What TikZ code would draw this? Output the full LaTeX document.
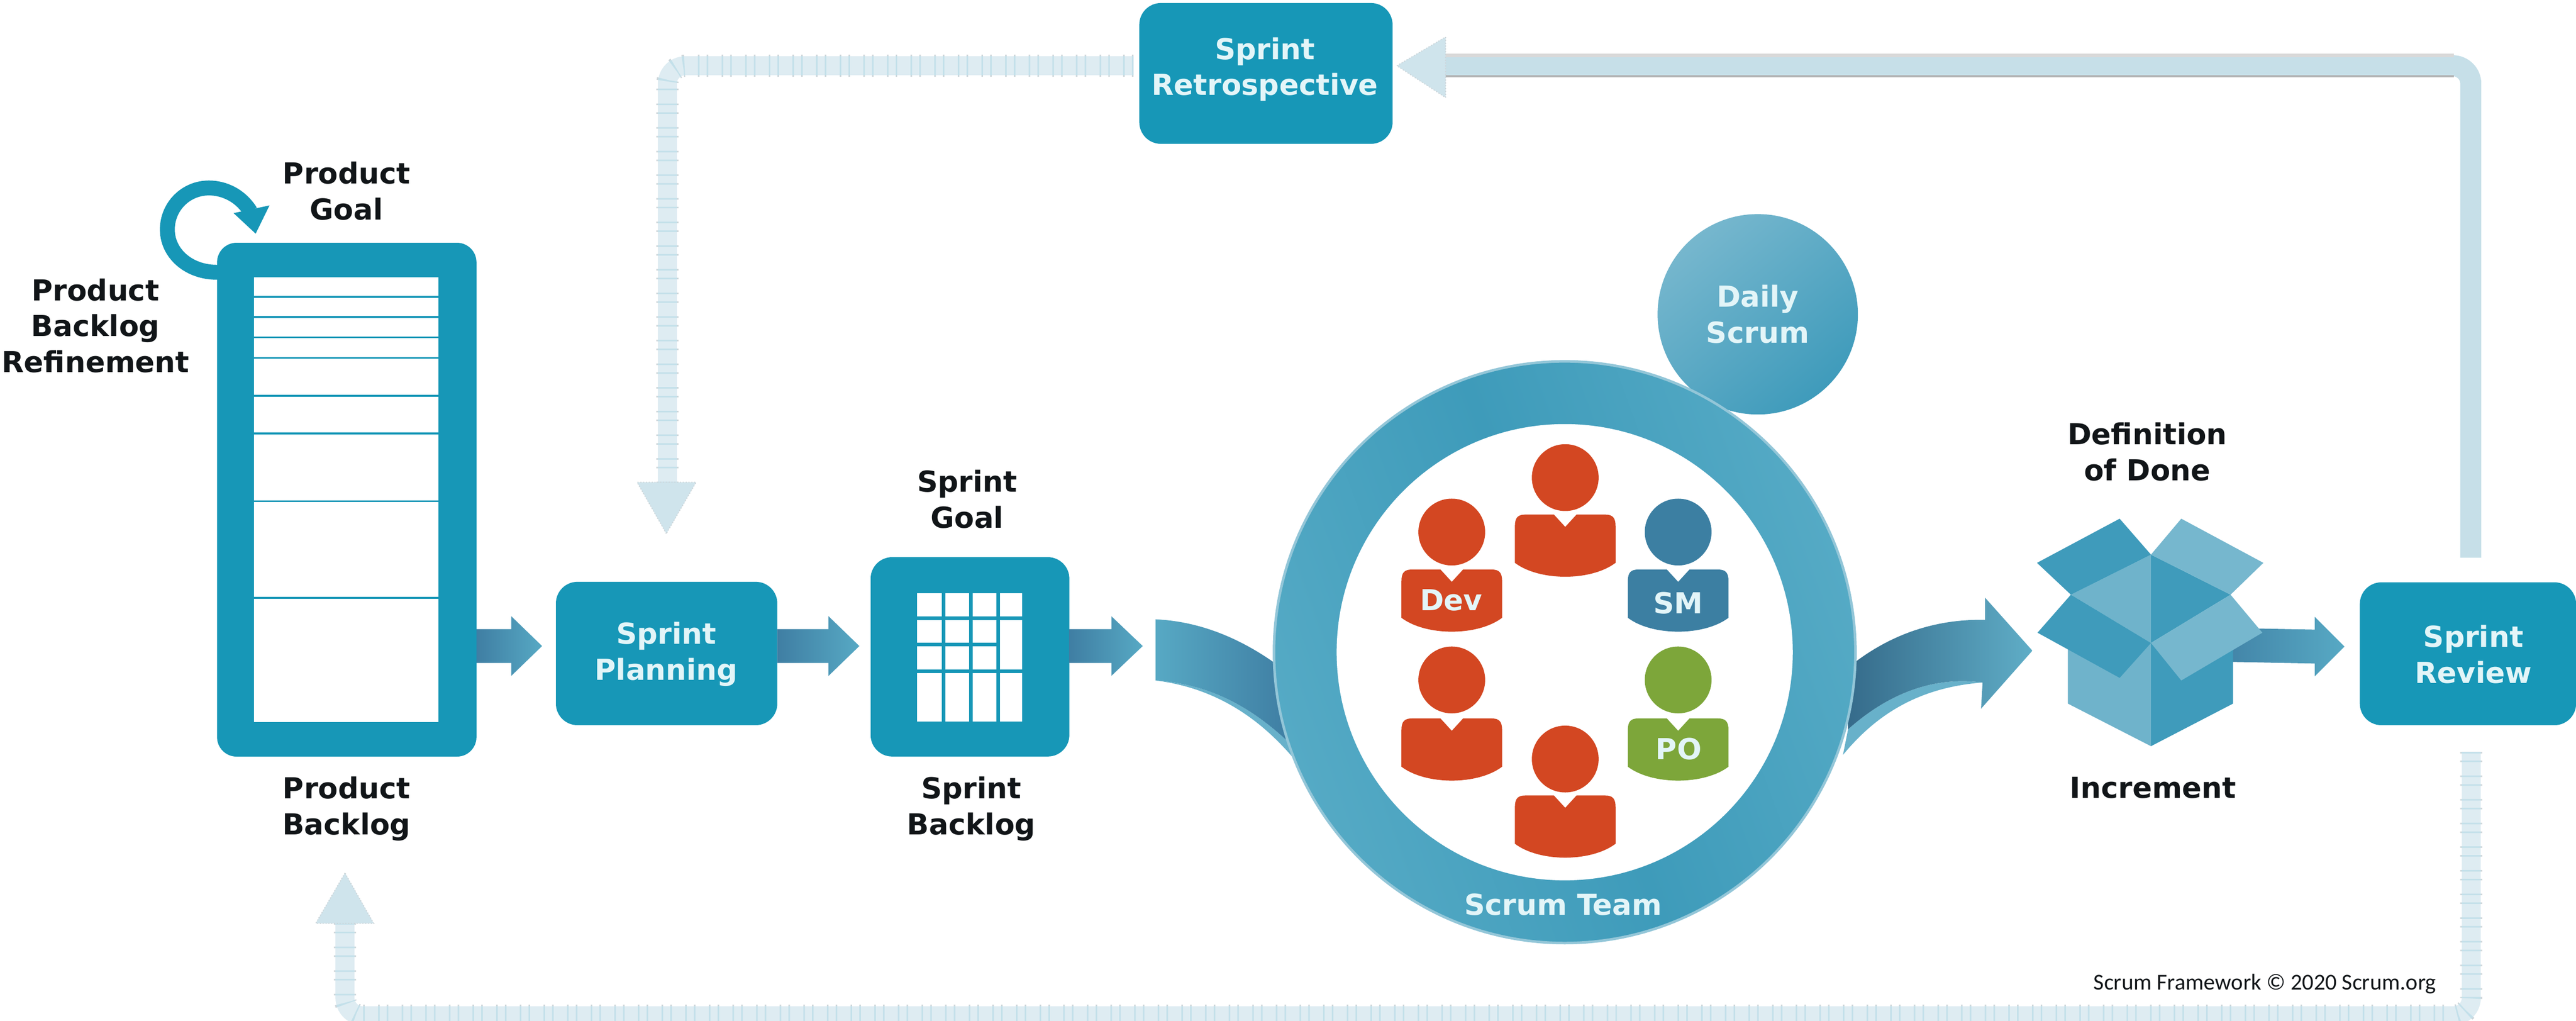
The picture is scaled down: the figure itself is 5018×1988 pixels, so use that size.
\documentclass[tikz,border=0pt]{standalone}
\usepackage{fontspec}
\setmainfont{DejaVu Sans}
\newfontfamily\footfont{Carlito}
\usetikzlibrary{calc,shapes.geometric}
\definecolor{scrumteal}{HTML}{1797B7}
\definecolor{paletext}{HTML}{E3F5F8}
\definecolor{inktext}{HTML}{111518}
\definecolor{arrdark}{HTML}{3F7EA3}
\definecolor{arrlight}{HTML}{57A9C4}
\definecolor{bandbasec}{HTML}{DEECF2}
\definecolor{bandstripec}{HTML}{C3E0EA}
\definecolor{bandtickc}{HTML}{CDD5D9}
\definecolor{solidband}{HTML}{C6DFE8}
\definecolor{headc}{HTML}{CFE4EC}
\definecolor{boxlight}{HTML}{6FB3CB}
\definecolor{boxdark}{HTML}{3F9BBB}
\definecolor{devred}{HTML}{D34722}
\definecolor{smblue}{HTML}{3C7FA2}
\definecolor{pogreen}{HTML}{7DA63A}
\definecolor{ringlight}{HTML}{55AAC5}
\definecolor{ringdark}{HTML}{3E9BBA}
\pgfdeclarehorizontalshading{ringshade}{100bp}{color(0bp)=(ringlight); color(25bp)=(ringlight); color(50bp)=(ringdark); color(75bp)=(ringlight); color(100bp)=(ringlight)}
\tikzset{
  tealbox/.style={fill=scrumteal,rounded corners=.42cm,inner sep=0,outer sep=0},
  darktext/.style={font=\fontsize{16}{19.85}\selectfont\bfseries,text=inktext,align=center,inner sep=0},
  whitetext/.style={font=\fontsize{16}{19.85}\selectfont\bfseries,text=paletext,align=center,inner sep=0},
  whitecell/.style={fill=white,inner sep=0,outer sep=0},
  fatgrad/.style={left color=arrdark,right color=arrlight},
  bandtick/.style={draw=bandtickc,line width=.43cm,dash pattern=on .03cm off .14cm on .03cm off .26cm,rounded corners=.35cm},
  bandbase/.style={draw=bandbasec,line width=.37cm,rounded corners=.35cm},
  bandstripe/.style={draw=bandstripec,line width=.37cm,dash pattern=on .03cm off .14cm on .03cm off .26cm,rounded corners=.35cm},
  lighthead/.style={fill=headc,draw=bandtickc,line width=.02cm,densely dotted},
  headdisc/.style={circle,inner sep=0,outer sep=0,minimum size=1.3cm},
  gridline/.style={draw=scrumteal,line width=.07cm},
  rowline/.style={draw=scrumteal,line width=.035cm},
}
\newcommand{\fatarrow}[3]{%
  \shade[fatgrad] ($(#1)+(0,-33)$) -- ($(#2)+(-#3,-33)$) -- ($(#2)+(-#3,-58)$) -- (#2)
    -- ($(#2)+(-#3,58)$) -- ($(#2)+(-#3,33)$) -- ($(#1)+(0,33)$) -- cycle;}
\newcommand{\stripeband}[1]{%
  \draw[bandtick] #1; \draw[bandbase] #1; \draw[bandstripe] #1;}
\newcommand{\person}[5]{%
  \node[headdisc,fill=#5] (#1) at (#2,#3) {};
  \begin{scope}[shift={(#2,#4)}]
    \fill[#5] (-98,22) .. controls (-98,6) and (-92,0) .. (-78,0) -- (-22,0) -- (0,24) -- (22,0)
      -- (78,0) .. controls (92,0) and (98,6) .. (98,22) -- (98,94)
      .. controls (50,130) and (-50,130) .. (-98,94) -- cycle;
  \end{scope}}
\begin{document}
\begin{tikzpicture}[x=.01cm,y=-.01cm]
\useasboundingbox (0,0) rectangle (5018,1988);
\clip (0,0) rectangle (5018,1988);
% named free ends
\coordinate (retroL) at (2208,128);
\coordinate (planTop) at (1300,945);
\coordinate (reviewT) at (4813,1086);
\coordinate (retroR) at (2816,128);
\coordinate (reviewB) at (4814,1464);
\coordinate (pbBot) at (672,1798);
% feedback bands
\stripeband{(retroL) -- (1300,128) -- (planTop)}
\stripeband{(reviewB) -- (4814,1978) -- (672,1978) -- (pbBot)}
\draw[draw=solidband,line width=.41cm,rounded corners=.35cm] (reviewT) -- (4813,128) -- (retroR);
\draw[draw=white!85!black,line width=.07cm] (retroR) ++(0,-20) -- (4780,108);
\draw[draw=black!30,line width=.04cm] (retroR) ++(0,21) -- (4780,149);
\coordinate (retroTip) at (2721,128);
\coordinate (planTip) at (1298,1039);
\coordinate (pbTip) at (672,1700);
\filldraw[lighthead] (retroTip) -- (2816,72) -- (2816,190) -- cycle;
\filldraw[lighthead] (planTip) -- (1241,939) -- (1356,939) -- cycle;
\filldraw[lighthead] (pbTip) -- (615,1798) -- (728,1798) -- cycle;
% refinement loop
\draw[scrumteal,line width=.29cm] (445,528) .. controls (380,540) and (326,500) .. (326,447)
  .. controls (326,402) and (362,366) .. (407,366) .. controls (436,366) and (468,380) .. (488,412);
\fill[scrumteal] (525,400) -- (455,415) -- (498,455) -- cycle;
% product backlog
\node[tealbox,minimum width=5.05cm,minimum height=10cm,rounded corners=.38cm] (pb) at (675.5,973) {};
\node[whitecell,minimum width=3.59cm,minimum height=8.66cm] (pblist) at (674.5,973) {};
\foreach \ry in {578,617,657,697,771,844,976,1164}
  \draw[rowline] (pblist.west |- 0,\ry) -- (pblist.east |- 0,\ry);
% sprint planning, backlog, retrospective, review
\node[tealbox,minimum width=4.31cm,minimum height=2.79cm] (plan) at (1298.5,1272.5) {};
\node[tealbox,minimum width=3.87cm,minimum height=3.88cm] (sb) at (1889.5,1279) {};
\node[tealbox,minimum width=4.93cm,minimum height=2.74cm] (retro) at (2466,143) {};
\node[tealbox,minimum width=4.21cm,minimum height=2.78cm] (review) at (4807.5,1273) {};
\node[whitecell,minimum width=2.05cm,minimum height=2.5cm] (grid) at (1888.5,1280) {};
\foreach \cx in {1838,1891,1944}
  \draw[gridline] (\cx,1155) -- (\cx,1405);
\draw[gridline] (grid.west |- 0,1204) -- (grid.east |- 0,1204);
\draw[gridline] (grid.west |- 0,1255) -- (1944,1255);
\draw[gridline] (grid.west |- 0,1307) -- (grid.east |- 0,1307);
% straight fat arrows
\coordinate (a1s) at (pb.east |- 0,1258);
\coordinate (a1e) at (1056,1258);
\fatarrow{a1s}{a1e}{60}
\coordinate (a2s) at (plan.east |- 0,1258);
\coordinate (a2e) at (1674,1258);
\fatarrow{a2s}{a2e}{60}
\coordinate (a3s) at (sb.east |- 0,1258);
\coordinate (a3e) at (2226,1258);
\fatarrow{a3s}{a3e}{61}
\coordinate (a4s) at (4300,1255);
\coordinate (a4e) at (4567,1259);
\fatarrow{a4s}{a4e}{58}
% curved arrows into and out of the ring
\fill[arrlight!90!white] (2251,1325) .. controls (2370,1340) and (2460,1400) .. (2535,1495)
  -- (2510,1445) .. controls (2430,1370) and (2350,1332) .. (2251,1325) -- cycle;
\shade[left color=arrlight,right color=arrdark] (2251,1206) .. controls (2340,1210) and (2420,1245) .. (2490,1296)
  -- (2510,1445) .. controls (2430,1370) and (2350,1332) .. (2251,1325) -- cycle;
\fill[arrlight!90!white] (3590,1470) .. controls (3660,1385) and (3745,1338) .. (3862,1329)
  .. controls (3780,1318) and (3690,1340) .. (3600,1420) -- cycle;
\shade[left color=arrdark!85!black,right color=arrlight!95!white] (3600,1300) .. controls (3680,1235) and (3770,1205) .. (3867,1207)
  -- (3867,1164) -- (3959,1267) -- (3859,1380) -- (3862,1329)
  .. controls (3780,1318) and (3690,1340) .. (3600,1420) -- cycle;
% daily scrum and ring
\node[circle,minimum size=3.9cm,inner sep=0,top color=boxlight!95!white,bottom color=boxdark,shading angle=40] (daily) at (3424,612) {};
\node[circle,minimum size=11.32cm,inner sep=0,draw=boxlight!75!white,line width=.05cm,shading=ringshade,shading angle=20] (team) at (3048,1270) {};
\node[circle,minimum size=8.88cm,inner sep=0,fill=white] (teamhole) at (3048,1270) {};
% people
\person{p1}{3049}{930}{1002}{devred}
\person{p2}{2828}{1036}{1109}{devred}
\person{p3}{3269}{1036}{1109}{smblue}
\person{p4}{2828}{1324}{1399}{devred}
\person{p5}{3269}{1324}{1399}{pogreen}
\person{p6}{3049}{1478}{1549}{devred}
% increment box
\fill[boxlight] (4028,1262) -- (4190,1252) -- (4190,1453) -- (4028,1370) -- cycle;
\fill[boxdark] (4190,1252) -- (4350,1262) -- (4350,1370) -- (4190,1453) -- cycle;
\fill[boxlight] (4034,1158) -- (4190,1080) -- (4190,1252) -- cycle;
\fill[boxdark] (4190,1080) -- (4345,1158) -- (4190,1252) -- cycle;
\fill[boxdark] (4129,1010) -- (4190,1080) -- (4034,1158) -- (3968,1096) -- cycle;
\fill[boxlight!95!white] (4249,1010) -- (4409,1096) -- (4345,1158) -- (4190,1080) -- cycle;
\fill[boxdark] (4034,1158) -- (4190,1252) -- (4129,1320) -- (3969,1232) -- cycle;
\fill[boxlight!95!white] (4190,1252) -- (4345,1158) -- (4407,1232) -- (4249,1325) -- cycle;
% texts
\node[darktext] (tgoal) at (675,372) {Product\\Goal};
\node[darktext] (tref) at (186,634) {Product\\Backlog\\Refinement};
\node[darktext] (tpb) at (675,1575) {Product\\Backlog};
\node[whitetext] (tplan) at (1298,1274) {Sprint\\Planning};
\node[darktext] (tsg) at (1884,972) {Sprint\\Goal};
\node[darktext] (tsb) at (1892,1575) {Sprint\\Backlog};
\node[whitetext] (tretro) at (2464,135) {Sprint\\Retrospective};
\node[whitetext] (tdaily) at (3424,612) {Daily\\Scrum};
\node[whitetext] (tteam) at (3045,1761) {Scrum Team};
\node[whitetext] (tdev) at (2827,1169) {Dev};
\node[whitetext] (tsm) at (3269,1174) {SM};
\node[whitetext] (tpo) at (3270,1458) {PO};
\node[darktext] (tdod) at (4183,880) {Definition\\of Done};
\node[darktext] (tinc) at (4194,1534) {Increment};
\node[whitetext] (trev) at (4818,1274) {Sprint\\Review};
\node[inner sep=0,text=inktext,font=\footfont\fontsize{12.6}{15}\selectfont] (tfoot) at (4412,1916) {Scrum Framework © 2020 Scrum.org};
\end{tikzpicture}
\end{document}
